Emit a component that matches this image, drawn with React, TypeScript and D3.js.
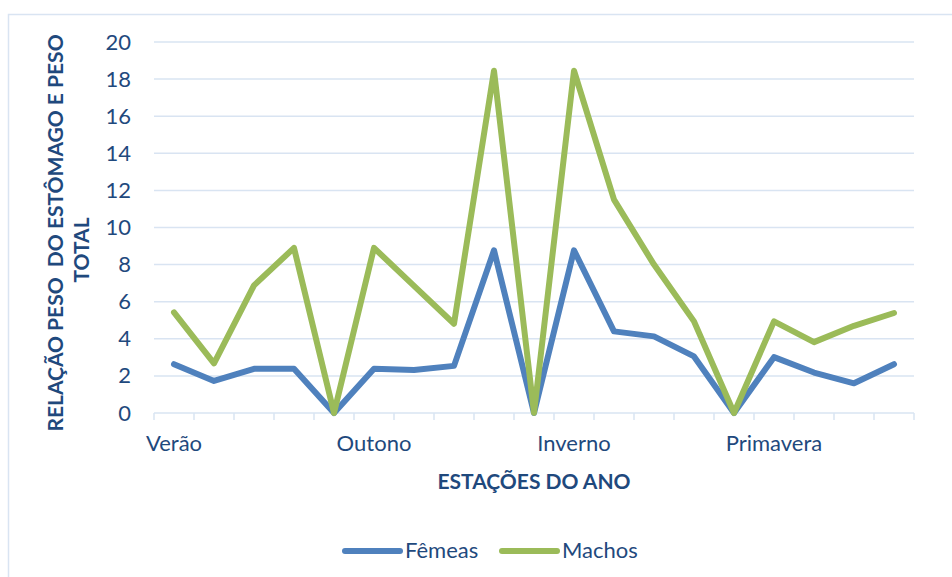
import React, { useEffect, useRef } from "react";
import * as d3 from "d3";

const categories = ["Verão", "", "", "", "", "Outono", "", "", "", "", "Inverno", "", "", "", "", "Primavera", "", "", ""];
const femeas = [2.63, 1.73, 2.38, 2.38, 0, 2.38, 2.32, 2.54, 8.77, 0, 8.77, 4.4, 4.13, 3.05, 0, 3.01, 2.18, 1.6, 2.63];
const machos = [5.42, 2.68, 6.88, 8.9, 0, 8.9, 6.85, 4.81, 18.45, 0, 18.45, 11.5, 8.0, 4.94, 0, 4.94, 3.82, 4.7, 5.39];
const yTicks = [0, 2, 4, 6, 8, 10, 12, 14, 16, 18, 20];
const seriesNames = ["Fêmeas", "Machos"];
const seriesColors = ["#4F81BD", "#9BBB59"];

const W = 952, H = 577;
const TEXT = "#1F497D";
const GRID = "#D9E4F2";
const FONT = "Lato, 'Open Sans', sans-serif";

export default function App() {
  const ref = useRef<SVGSVGElement>(null);
  useEffect(() => {
    const svg = d3.select(ref.current);
    svg.selectAll("*").remove();
    const left = 154, right = 914, top = 42, bottom = 413;
    const idx = categories.map((_, i) => String(i));
    const x = d3.scaleBand().domain(idx).range([left, right]).padding(0);
    const y = d3.scaleLinear().domain([0, 20]).range([bottom, top]);

    // frame
    svg.append("path").attr("d", `M8.5,${H} L8.5,14.5 L${W},14.5`).attr("fill", "none").attr("stroke", GRID).attr("stroke-width", 1.5);

    // grid
    svg.append("g").selectAll("line").data(yTicks.filter(t => t > 0)).join("line")
      .attr("x1", left).attr("x2", right).attr("y1", d => y(d)).attr("y2", d => y(d))
      .attr("stroke", GRID).attr("stroke-width", 1.5);

    // x axis line + ticks
    svg.append("line").attr("x1", left).attr("x2", right).attr("y1", bottom).attr("y2", bottom).attr("stroke", GRID).attr("stroke-width", 1.5);
    const bounds = idx.map(i => x(i)!).concat([right]);
    svg.append("g").selectAll("line").data(bounds).join("line")
      .attr("x1", d => d).attr("x2", d => d).attr("y1", bottom).attr("y2", bottom + 7)
      .attr("stroke", GRID).attr("stroke-width", 1.5);

    // y labels
    svg.append("g").selectAll("text").data(yTicks).join("text")
      .attr("x", 131).attr("y", d => y(d) + 7.5).attr("text-anchor", "end")
      .attr("font-family", FONT).attr("font-size", 22).attr("fill", TEXT).text(d => String(d));

    // x labels
    svg.append("g").selectAll("text").data(categories).join("text")
      .attr("x", (_, i) => x(String(i))! + x.bandwidth() / 2).attr("y", 451).attr("text-anchor", "middle")
      .attr("font-family", FONT).attr("font-size", 22).attr("fill", TEXT).text(d => d);

    // lines
    const line = d3.line<number>().x((_, i) => x(String(i))! + x.bandwidth() / 2).y(d => y(d));
    [femeas, machos].forEach((s, k) => {
      svg.append("path").attr("d", line(s)!).attr("fill", "none").attr("stroke", seriesColors[k])
        .attr("stroke-width", 6).attr("stroke-linejoin", "round").attr("stroke-linecap", "round");
    });

    // axis titles
    svg.append("text").attr("x", 534).attr("y", 489).attr("text-anchor", "middle")
      .attr("font-family", FONT).attr("font-weight", "bold").attr("font-size", 21).attr("fill", TEXT)
      .text("ESTAÇÕES DO ANO");
    svg.append("text").attr("transform", "translate(63,233) rotate(-90)").attr("text-anchor", "middle")
      .attr("font-family", FONT).attr("font-weight", "bold").attr("font-size", 21).attr("fill", TEXT)
      .style("white-space", "pre")
      .text("RELAÇÃO PESO  DO ESTÔMAGO E PESO");
    svg.append("text").attr("transform", "translate(89,250) rotate(-90)").attr("text-anchor", "middle")
      .attr("font-family", FONT).attr("font-weight", "bold").attr("font-size", 21).attr("fill", TEXT)
      .text("TOTAL");

    // legend
    const legX = [345, 502];
    seriesNames.forEach((n, k) => {
      svg.append("line").attr("x1", legX[k]).attr("x2", legX[k] + 55).attr("y1", 551).attr("y2", 551)
        .attr("stroke", seriesColors[k]).attr("stroke-width", 6).attr("stroke-linecap", "round");
      svg.append("text").attr("x", legX[k] + 60).attr("y", 558).attr("font-family", FONT).attr("font-size", 22)
        .attr("fill", TEXT).text(n);
    });
  }, []);
  return <svg ref={ref} width={W} height={H} style={{ position: "absolute", left: 0, top: 0, background: "#fff" }} />;
}
